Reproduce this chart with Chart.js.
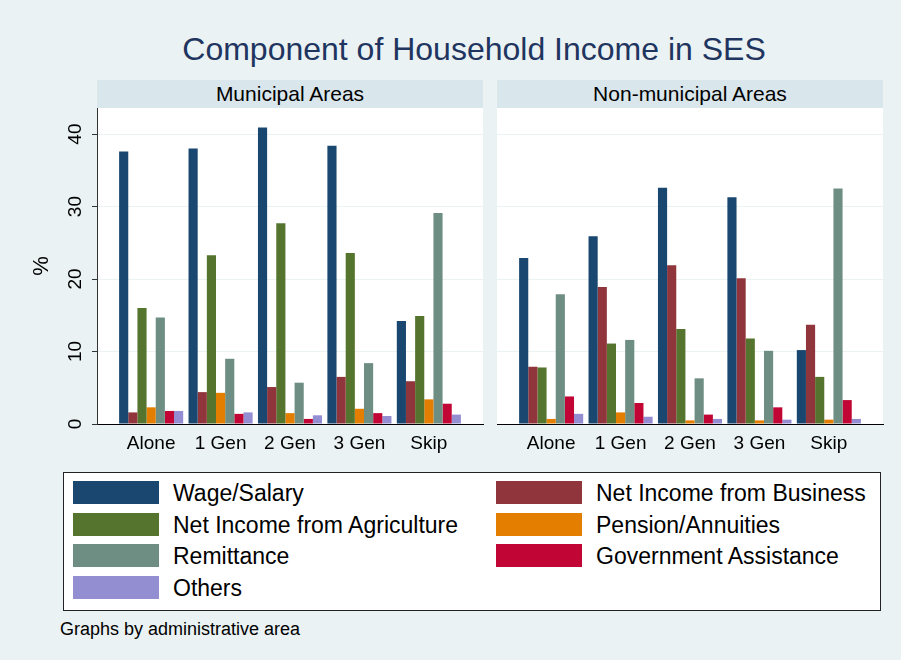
<!DOCTYPE html>
<html>
<head>
<meta charset="utf-8">
<title>Component of Household Income in SES</title>
<script src="https://cdn.jsdelivr.net/npm/chart.js@4.4.1/dist/chart.umd.min.js"></script>
<style>
  body { margin: 0; background: #eaf2f3; font-family: "Liberation Sans", Arial, sans-serif; }
  #page { position: relative; width: 901px; height: 660px; overflow: hidden; }
  #title { position: absolute; left: 174px; width: 600px; top: 29px; text-align: center;
           font-size: 32px; color: #1f3560; line-height: 40px; }
  .strip { position: absolute; top: 80px; height: 28px; width: 386px; background: #d9e6eb;
           text-align: center; font-size: 21px; line-height: 28px; color: #000; z-index: 2; }
  canvas { position: absolute; }
  #legend { position: absolute; left: 63px; top: 472px; width: 816px; height: 137px;
            background: #fff; border: 1px solid #222; }
  .item { position: absolute; height: 23px; }
  .swatch { position: absolute; left: 0; top: 0; width: 86px; height: 23px; }
  .label { position: absolute; left: 100px; top: -1px; white-space: nowrap; font-size: 23px;
           line-height: 27px; color: #000; }
  #note { position: absolute; left: 60px; top: 619px; font-size: 18px; color: #000; }
</style>
</head>
<body>
<div id="page">
  <div id="title">Component of Household Income in SES</div>
  <div class="strip" style="left:97px">Municipal Areas</div>
  <div class="strip" style="left:497px">Non-municipal Areas</div>
  <canvas id="left-chart" width="490" height="380" style="left:0;top:80px"></canvas>
  <canvas id="right-chart" width="400" height="380" style="left:490px;top:80px"></canvas>
  <div id="legend"></div>
  <div id="note">Graphs by administrative area</div>
</div>

<script>
// Household types (x categories)
const groups = ['Alone', '1 Gen', '2 Gen', '3 Gen', 'Skip'];

// Income components, in bar order
const seriesNames = [
  'Wage/Salary',
  'Net Income from Business',
  'Net Income from Agriculture',
  'Pension/Annuities',
  'Remittance',
  'Government Assistance',
  'Others'
];
const seriesColors = ['#1a476f', '#90353b', '#55752f', '#e37e00', '#6e8e84', '#c10534', '#938dd2'];

// Y axis ticks (%)
const yTicks = [0, 10, 20, 30, 40];

// Municipal areas (%)
const muniWage     = [37.6, 38.0, 40.9, 38.4, 14.2];
const muniBusiness = [1.6, 4.4, 5.1, 6.5, 5.9];
const muniAgri     = [16.0, 23.3, 27.7, 23.6, 14.9];
const muniPension  = [2.3, 4.3, 1.5, 2.1, 3.4];
const muniRemit    = [14.7, 9.0, 5.7, 8.4, 29.1];
const muniGovt     = [1.8, 1.4, 0.7, 1.5, 2.8];
const muniOthers   = [1.8, 1.6, 1.2, 1.1, 1.3];

// Non-municipal areas (%)
const nonWage     = [22.9, 25.9, 32.6, 31.3, 10.2];
const nonBusiness = [7.9, 18.9, 21.9, 20.1, 13.7];
const nonAgri     = [7.8, 11.1, 13.1, 11.8, 6.5];
const nonPension  = [0.7, 1.6, 0.5, 0.5, 0.6];
const nonRemit    = [17.9, 11.6, 6.3, 10.1, 32.5];
const nonGovt     = [3.8, 2.9, 1.3, 2.3, 3.3];
const nonOthers   = [1.4, 1.0, 0.7, 0.6, 0.7];

const muniSeries = [muniWage, muniBusiness, muniAgri, muniPension, muniRemit, muniGovt, muniOthers];
const nonSeries  = [nonWage, nonBusiness, nonAgri, nonPension, nonRemit, nonGovt, nonOthers];

const FONT = '"Liberation Sans", Arial, sans-serif';

/**
 * White plot region behind the bars
 */
const plotBackground = {
  id: 'plotBackground',
  beforeDraw(chart) {
    const { ctx, chartArea } = chart;
    ctx.save();
    ctx.fillStyle = '#ffffff';
    ctx.fillRect(chartArea.left, chartArea.top, chartArea.right - chartArea.left, chartArea.bottom - chartArea.top);
    ctx.restore();
  }
};

function buildDatasets(series) {
  return series.map((values, i) => ({
    label: seriesNames[i],
    data: values.map((v, j) => ({ x: j, y: v })),
    backgroundColor: seriesColors[i],
    borderWidth: 0,
    categoryPercentage: 0.923,
    barPercentage: 1
  }));
}

function makeChart(canvasId, series, showAxis) {
  const ctx = document.getElementById(canvasId).getContext('2d');
  return new Chart(ctx, {
    type: 'bar',
    data: { datasets: buildDatasets(series) },
    plugins: [plotBackground],
    options: {
      responsive: false,
      animation: false,
      devicePixelRatio: 1,
      layout: {
        padding: { top: 28, right: 7, left: showAxis ? 0 : 7, bottom: 0 }
      },
      plugins: {
        legend: { display: false },
        tooltip: { enabled: false }
      },
      scales: {
        x: {
          type: 'linear',
          offset: false,
          min: -0.78,
          max: 4.78,
          afterBuildTicks: scale => {
            scale.ticks = groups.map((g, i) => ({ value: i }));
          },
          afterFit: scale => { scale.height = 36; },
          grid: { display: false, drawTicks: false, offset: false },
          border: { display: true, color: '#000', width: 1 },
          ticks: {
            padding: 8,
            color: '#000',
            font: { family: FONT, size: 19 },
            maxRotation: 0,
            autoSkip: false,
            callback: value => groups[value]
          }
        },
        y: {
          min: 0,
          max: 43.6,
          afterBuildTicks: scale => {
            scale.ticks = yTicks.map(v => ({ value: v }));
          },
          afterFit: scale => { scale.width = showAxis ? 97 : 0; },
          grid: {
            color: '#eaf2f3',
            lineWidth: 1,
            drawTicks: showAxis,
            tickLength: 5,
            tickColor: '#333'
          },
          border: { display: showAxis, color: '#333', width: 1 },
          ticks: {
            display: showAxis,
            padding: 6,
            color: '#000',
            minRotation: 90,
            maxRotation: 90,
            crossAlign: 'center',
            font: { family: FONT, size: 19 }
          },
          title: {
            display: showAxis,
            text: '%',
            color: '#000',
            font: { family: FONT, size: 22 },
            padding: { top: 29, bottom: 0 }
          }
        }
      }
    }
  });
}

makeChart('left-chart', muniSeries, true);
makeChart('right-chart', nonSeries, false);

// Legend: two columns, filled row by row
const legend = document.getElementById('legend');
seriesNames.forEach((name, i) => {
  const col = i % 2;
  const row = Math.floor(i / 2);
  const item = document.createElement('div');
  item.className = 'item';
  item.style.left = (col === 0 ? 9 : 432) + 'px';
  item.style.top = (8 + row * 31.7) + 'px';
  item.innerHTML = '<div class="swatch" style="background:' + seriesColors[i] + '"></div>' +
                   '<div class="label">' + name + '</div>';
  legend.appendChild(item);
});
</script>
</body>
</html>
